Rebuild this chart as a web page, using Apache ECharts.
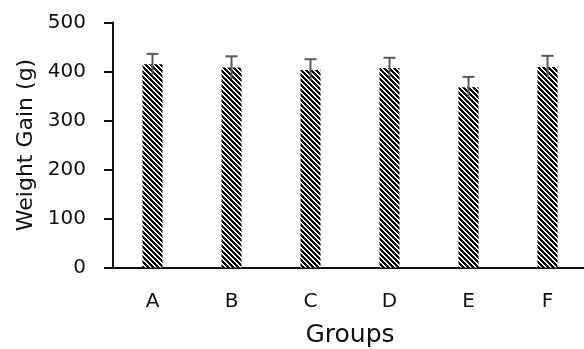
<!DOCTYPE html>
<html>
<head>
<meta charset="utf-8">
<script src="https://cdn.jsdelivr.net/npm/echarts@6/dist/echarts.min.js"></script>
<style>
  html, body { margin: 0; padding: 0; background: #fff; }
  #chart { width: 584px; height: 349px; }
</style>
</head>
<body>
<div id="chart"></div>
<script>
// Group labels, mean weight gain and the error extent for each group
var categories = ['A', 'B', 'C', 'D', 'E', 'F'];
var weightGain = [415, 408, 403, 407, 368, 409];
var errorBars = [21, 23, 22, 21, 21, 23];
var yTicks = [0, 100, 200, 300, 400, 500];

// Dense back-slash hatching used as the bar fill
function hatchPattern() {
  var n = 5;
  var c = document.createElement('canvas');
  c.width = n; c.height = n;
  var ctx = c.getContext('2d');
  ctx.fillStyle = '#ffffff';
  ctx.fillRect(0, 0, n, n);
  ctx.fillStyle = '#000000';
  for (var y = 0; y < n; y++) {
    for (var x = 0; x < n; x++) {
      var d = ((x - y) % n + n) % n;
      if (d <= 2) ctx.fillRect(x, y, 1, 1);
    }
  }
  return c;
}

var font = 'DejaVu Sans';
var chart = echarts.init(document.getElementById('chart'), null, { renderer: 'canvas' });

var errData = categories.map(function (c, i) {
  return [i, weightGain[i] - errorBars[i], weightGain[i] + errorBars[i]];
});

chart.setOption({
  animation: false,
  grid: { left: 113, top: 22.5, width: 474, height: 245, outerBoundsMode: 'none', containLabel: false },
  xAxis: {
    type: 'category',
    data: categories,
    name: 'Groups',
    nameLocation: 'middle',
    nameGap: 55,
    nameTextStyle: { fontFamily: font, fontSize: 25, color: '#111' },
    axisLine: { lineStyle: { color: '#111', width: 2 } },
    axisTick: { show: false },
    axisLabel: { fontFamily: font, fontSize: 20, color: '#111', margin: 24 }
  },
  yAxis: {
    type: 'value',
    min: yTicks[0],
    max: yTicks[yTicks.length - 1],
    interval: 100,
    name: 'Weight Gain (g)',
    nameLocation: 'middle',
    nameGap: 76,
    nameRotate: 90,
    nameTextStyle: { fontFamily: font, fontSize: 22, color: '#111' },
    axisLine: { show: true, lineStyle: { color: '#111', width: 2 } },
    axisTick: { show: true, length: 9, lineStyle: { color: '#111', width: 2 } },
    axisLabel: { fontFamily: font, fontSize: 20, color: '#111', margin: 27 },
    splitLine: { show: false }
  },
  series: [
    {
      type: 'bar',
      data: weightGain,
      barWidth: 20,
      itemStyle: { color: { image: hatchPattern(), repeat: 'repeat' } },
      z: 2
    },
    {
      type: 'custom',
      data: errData,
      z: 3,
      renderItem: function (params, api) {
        var x = api.value(0);
        var lo = api.coord([x, api.value(1)]);
        var hi = api.coord([x, api.value(2)]);
        var half = 6;
        var style = { stroke: '#595959', lineWidth: 2 };
        return {
          type: 'group',
          children: [
            { type: 'line', shape: { x1: hi[0], y1: hi[1], x2: lo[0], y2: lo[1] }, style: style },
            { type: 'line', shape: { x1: hi[0] - half, y1: hi[1], x2: hi[0] + half, y2: hi[1] }, style: style }
          ]
        };
      }
    }
  ]
});
</script>
</body>
</html>
